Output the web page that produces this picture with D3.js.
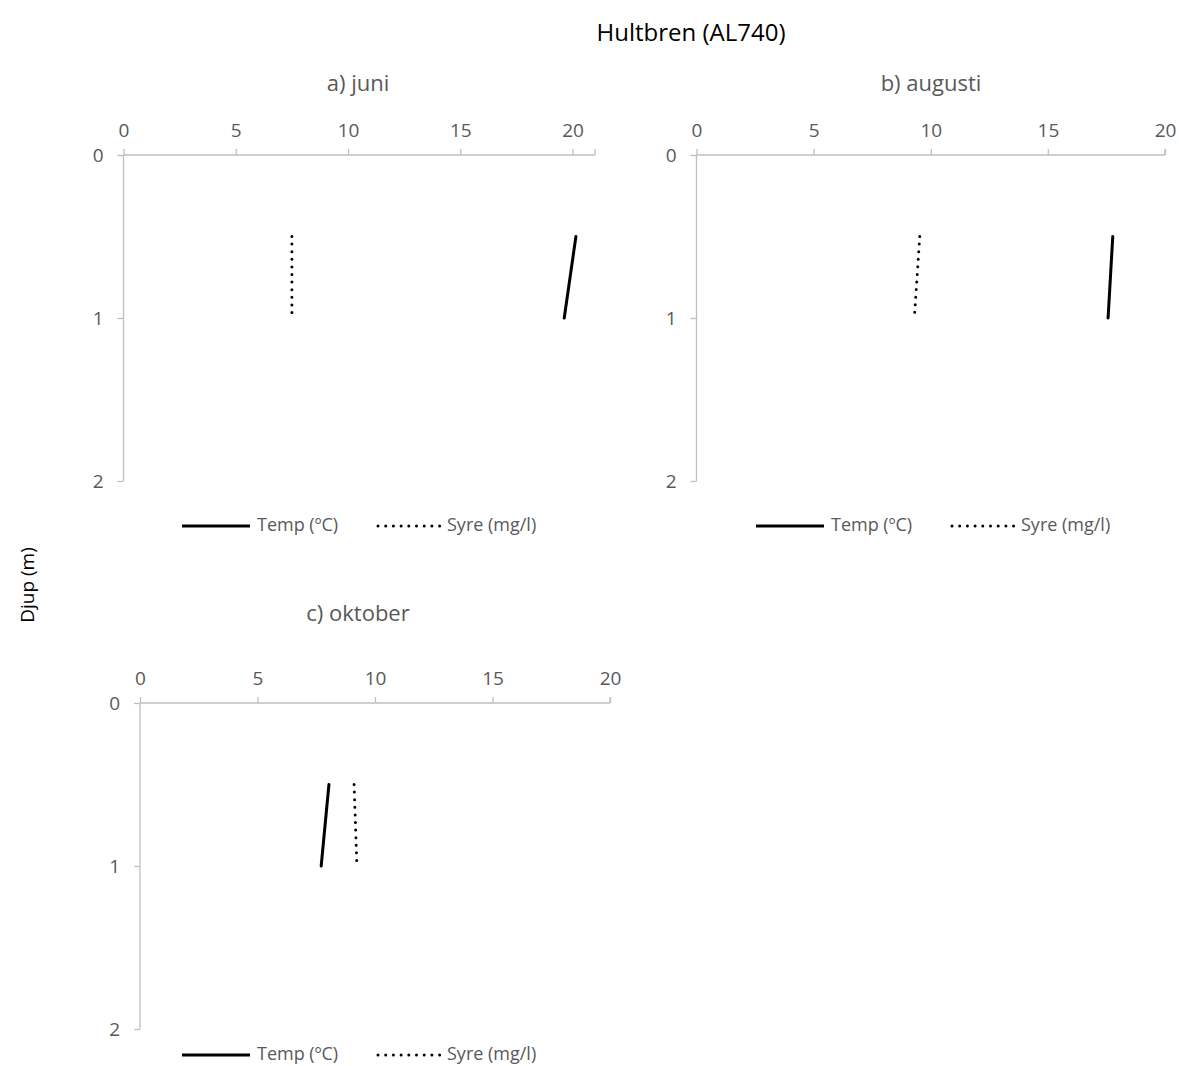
<!DOCTYPE html>
<html>
<head>
<meta charset="utf-8">
<script src="https://cdn.jsdelivr.net/npm/d3@7"></script>
<style>
  body { margin: 0; background: #fff; }
  text { font-family: "Open Sans", "Noto Sans", sans-serif; }
</style>
</head>
<body>
<div id="chart"></div>
<script>
// Data (depth in m)
const depths = [0.5, 1.0];
const panelTitles = ["a) juni", "b) augusti", "c) oktober"];
const tempJuni = [20.15, 19.63];
const syreJuni = [7.5, 7.5];
const tempAugusti = [17.77, 17.57];
const syreAugusti = [9.53, 9.3];
const tempOktober = [8.04, 7.71];
const syreOktober = [9.11, 9.23];
const xMax = [21, 20, 20];
const xTicks = [0, 5, 10, 15, 20];
const yTicks = [0, 1, 2];
const legendLabels = ["Temp (ºC)", "Syre (mg/l)"];

const W = 1179, H = 1066;
const axisColor = "#bfbfbf";
const textColor = "#595959";

const svg = d3.select("#chart")
    .append("svg")
    .attr("width", W)
    .attr("height", H);

// Main title + shared y label
svg.append("text")
    .attr("x", 691)
    .attr("y", 41)
    .attr("text-anchor", "middle")
    .style("font-size", "24px")
    .attr("fill", "#000")
    .text("Hultbren (AL740)");

svg.append("text")
    .attr("transform", "translate(34,585) rotate(-90)")
    .attr("text-anchor", "middle")
    .style("font-size", "19px")
    .attr("fill", "#000")
    .text("Djup (m)");

// Panel boxes (plot area + legend pos)
const panels = [
    {left: 123.5, right: 595, top: 155, bottom: 481, titleX: 358, titleY: 91, legX: 182, legY: 526,
     temp: tempJuni, syre: syreJuni},
    {left: 696.5, right: 1165, top: 155, bottom: 481, titleX: 931, titleY: 91, legX: 756, legY: 526,
     temp: tempAugusti, syre: syreAugusti},
    {left: 140, right: 610, top: 703, bottom: 1029, titleX: 358, titleY: 621, legX: 182, legY: 1055,
     temp: tempOktober, syre: syreOktober}
];

panels.forEach((p, i) => {
    const g = svg.append("g");

    const x = d3.scaleLinear()
        .domain([0, xMax[i]])
        .range([p.left, p.right]);

    const y = d3.scaleLinear()
        .domain([0, 2])
        .range([p.top, p.bottom]);

    // Title
    g.append("text")
        .attr("x", p.titleX)
        .attr("y", p.titleY)
        .attr("text-anchor", "middle")
        .style("font-size", "22px")
        .attr("fill", textColor)
        .text(panelTitles[i]);

    // X axis on top
    const xAxis = g.append("g")
        .attr("transform", `translate(0,${p.top})`)
        .call(d3.axisTop(x).tickValues(xTicks).tickSize(6).tickPadding(12));
    xAxis.select(".domain").attr("stroke", axisColor).attr("stroke-width", 1.3)
        .attr("d", `M${p.left},0H${p.right}`);
    xAxis.selectAll(".tick line").attr("stroke", axisColor).attr("stroke-width", 1.3);
    xAxis.selectAll(".tick text").attr("fill", textColor).style("font-size", "19px");
    // end tick at right edge
    xAxis.append("line")
        .attr("x1", p.right).attr("x2", p.right)
        .attr("y1", -6).attr("y2", 0)
        .attr("stroke", axisColor).attr("stroke-width", 1.3);

    // Y axis on left
    const yAxis = g.append("g")
        .attr("transform", `translate(${p.left},0)`)
        .call(d3.axisLeft(y).tickValues(yTicks).tickFormat(d3.format("d")).tickSize(6).tickPadding(14));
    yAxis.select(".domain").attr("stroke", axisColor).attr("stroke-width", 1.3)
        .attr("d", `M0,${p.top}V${p.bottom}`);
    yAxis.selectAll(".tick line").attr("stroke", axisColor).attr("stroke-width", 1.3);
    yAxis.selectAll(".tick text").attr("fill", textColor).style("font-size", "19px");

    const line = d3.line()
        .x(d => x(d[0]))
        .y(d => y(d[1]));

    // Temp: solid
    g.append("path")
        .datum(p.temp.map((v, k) => [v, depths[k]]))
        .attr("d", line)
        .attr("fill", "none")
        .attr("stroke", "#000")
        .attr("stroke-width", 3)
        .attr("stroke-linecap", "round");

    // Syre: round dots
    g.append("path")
        .datum(p.syre.map((v, k) => [v, depths[k]]))
        .attr("d", line)
        .attr("fill", "none")
        .attr("stroke", "#000")
        .attr("stroke-width", 3)
        .attr("stroke-linecap", "round")
        .attr("stroke-dasharray", "0,7.6");

    // Legend
    const leg = g.append("g").attr("transform", `translate(${p.legX},${p.legY})`);
    leg.append("line")
        .attr("x1", 0).attr("x2", 68)
        .attr("stroke", "#000").attr("stroke-width", 3);
    leg.append("text")
        .attr("x", 75).attr("y", 5)
        .style("font-size", "18px")
        .attr("fill", textColor)
        .text(legendLabels[0]);
    leg.append("line")
        .attr("x1", 196).attr("x2", 258)
        .attr("stroke", "#000").attr("stroke-width", 3)
        .attr("stroke-linecap", "round")
        .attr("stroke-dasharray", "0,7.7");
    leg.append("text")
        .attr("x", 265).attr("y", 5)
        .style("font-size", "18px")
        .attr("fill", textColor)
        .text(legendLabels[1]);
});
</script>
</body>
</html>
